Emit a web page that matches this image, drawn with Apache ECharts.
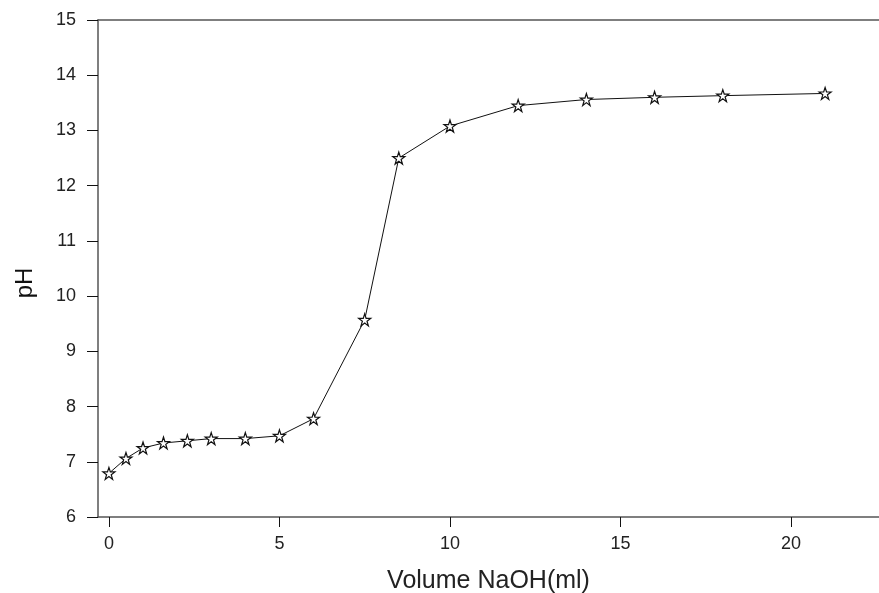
<!DOCTYPE html>
<html>
<head>
<meta charset="utf-8">
<script src="https://cdn.jsdelivr.net/npm/echarts@6/dist/echarts.min.js"></script>
<style>html,body{margin:0;padding:0;background:#fff;overflow:hidden;}#c{width:879px;height:593px;}</style>
</head>
<body>
<div id="c"></div>
<script>
var volume = [0, 0.5, 1, 1.6, 2.3, 3, 4, 5, 6, 7.5, 8.5, 10, 12, 14, 16, 18, 21];
var pH = [6.79, 7.06, 7.25, 7.34, 7.38, 7.42, 7.42, 7.47, 7.78, 9.57, 12.50, 13.08, 13.45, 13.56, 13.60, 13.63, 13.67];
var xTicks = [0, 5, 10, 15, 20];

var star = 'path://M50,2 L61.5,37 L98,37 L68.5,58.5 L79.5,94 L50,72 L20.5,94 L31.5,58.5 L2,37 L38.5,37 Z';
var font = 'Liberation Sans, Arial, sans-serif';

var chart = echarts.init(document.getElementById('c'), null, {width: 879, height: 593});
chart.setOption({
  animation: false,
  backgroundColor: '#fff',
  grid: {left: 98, top: 20, right: 0, height: 497, containLabel: false, outerBoundsMode: 'none'},
  xAxis: [{
    type: 'value', min: -0.32, max: 22.58,
    name: 'Volume NaOH(ml)', nameLocation: 'middle', nameGap: 52,
    nameTextStyle: {fontFamily: font, fontSize: 25, color: '#222'},
    axisLine: {show: true, onZero: false, lineStyle: {color: '#555', width: 1.5}},
    axisTick: {show: true, inside: false, length: 10, customValues: xTicks, lineStyle: {color: '#111', width: 1}},
    axisLabel: {customValues: xTicks, margin: 18, fontFamily: font, fontSize: 18, color: '#222'},
    splitLine: {show: false}
  }, {
    type: 'value', position: 'top', min: -0.32, max: 22.58,
    axisLine: {show: true, onZero: false, lineStyle: {color: '#555', width: 1.5}},
    axisTick: {show: false}, axisLabel: {show: false}, splitLine: {show: false}
  }],
  yAxis: {
    type: 'value', min: 6, max: 15, interval: 1,
    axisLine: {show: true, onZero: false, lineStyle: {color: '#555', width: 1.5}},
    axisTick: {show: true, inside: false, length: 11, lineStyle: {color: '#111', width: 1}},
    axisLabel: {margin: 22, fontFamily: font, fontSize: 18, color: '#222'},
    splitLine: {show: false}
  },
  graphic: [{
    type: 'text',
    x: 25, y: 283,
    rotation: Math.PI / 2,
    style: {text: 'pH', fontFamily: font, fontSize: 24, fill: '#111', textAlign: 'center', textVerticalAlign: 'middle'}
  }],
  series: [{
    type: 'line',
    xAxisIndex: 0,
    data: volume.map(function (v, i) { return [v, pH[i]]; }),
    symbol: star,
    symbolSize: 12,
    showAllSymbol: true,
    lineStyle: {color: '#111', width: 1},
    itemStyle: {color: '#fff', borderColor: '#111', borderWidth: 1.2}
  }]
});
</script>
</body>
</html>
